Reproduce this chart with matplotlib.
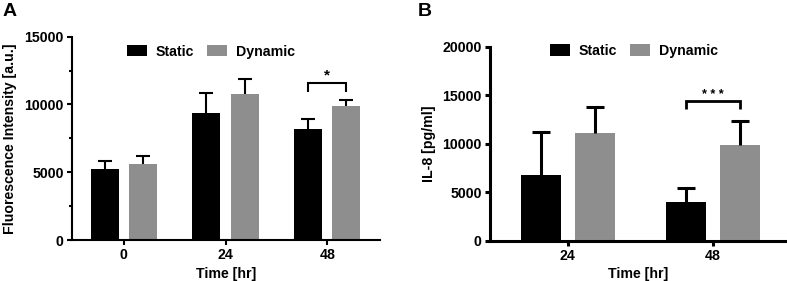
import numpy as np
import matplotlib.pyplot as plt
from matplotlib.ticker import MultipleLocator

plt.rcParams['font.family'] = ['Liberation Sans', 'DejaVu Sans']
plt.rcParams['font.weight'] = 'bold'
plt.rcParams['axes.labelweight'] = 'bold'

# panel A data
cats_a = ['0', '24', '48']
static_a = [5250, 9400, 8180]
static_a_err = [610, 1480, 760]
dynamic_a = [5590, 10760, 9900]
dynamic_a_err = [640, 1110, 420]

# panel B data
cats_b = ['24', '48']
static_b = [6730, 3970]
static_b_err = [4490, 1450]
dynamic_b = [11150, 9870]
dynamic_b_err = [2660, 2490]

BLACK = '#000000'
GRAY = '#8e8e8e'
FS = 10.2


def bar_panel(ax, cats, static, static_err, dynamic, dynamic_err, lw, capsize):
    x = np.arange(len(cats))
    w = 0.275
    off = 0.188
    ax.bar(x - off, static, w, color=BLACK, label='Static', zorder=2)
    ax.bar(x + off, dynamic, w, color=GRAY, label='Dynamic', zorder=2)
    for xs, vals, errs in [(x - off, static, static_err), (x + off, dynamic, dynamic_err)]:
        eb = ax.errorbar(xs, vals, yerr=[np.zeros(len(vals)), errs], fmt='none',
                         ecolor='k', elinewidth=lw, capsize=capsize, capthick=lw, zorder=3)
        # one-sided bars: drop the cap sitting on the bar top
        eb[1][0].set_visible(False)
    ax.set_xticks(x)
    ax.set_xticklabels(cats)
    for s in ['top', 'right']:
        ax.spines[s].set_visible(False)
    for s in ['left', 'bottom']:
        ax.spines[s].set_linewidth(lw)
    ax.tick_params(axis='both', which='major', width=lw, length=3.5, pad=2.5, labelsize=FS)
    ax.tick_params(axis='y', which='minor', width=lw, length=2.2)
    ax.set_xlabel('Time [hr]', fontsize=FS, labelpad=3)
    return x, off


def bracket(ax, x0, x1, ytop, ybot, lw, text, fs):
    ax.plot([x0, x0, x1, x1], [ybot, ytop, ytop, ybot], color='k', lw=lw,
            solid_capstyle='butt', solid_joinstyle='miter', zorder=3)
    ax.text((x0 + x1) / 2, ytop, text, ha='center', va='bottom', fontsize=fs)


fig = plt.figure(figsize=(7.87, 2.81), dpi=100)

# Panel A
axA = fig.add_axes([0.0915, 0.1459, 0.3914, 0.7235])
x, off = bar_panel(axA, cats_a, static_a, static_a_err, dynamic_a, dynamic_a_err, 1.5, 4.7)
axA.set_xlim(-0.508, 2.518)
axA.set_ylim(0, 15000)
axA.set_yticks([0, 5000, 10000, 15000])
axA.yaxis.set_minor_locator(MultipleLocator(2500))
axA.set_ylabel('Fluorescence Intensity [a.u.]', fontsize=FS, labelpad=5.5)
bracket(axA, x[2] - off, x[2] + off, 11620, 10930, 1.5, '*', 11)
axA.legend(loc='center', bbox_to_anchor=(0.451, 0.926), ncol=2, frameon=False,
           fontsize=FS, handlelength=1.4, handleheight=0.85, handletextpad=0.6,
           columnspacing=0.95, borderaxespad=0, borderpad=0)
fig.text(0.003, 0.99, 'A', fontsize=14, fontweight='bold', va='top', ha='left')

# Panel B
axB = fig.add_axes([0.6226, 0.1434, 0.3774, 0.6904])
x, off = bar_panel(axB, cats_b, static_b, static_b_err, dynamic_b, dynamic_b_err, 2.2, 6.4)
axB.set_xlim(-0.537, 1.51)
axB.set_ylim(0, 20000)
axB.set_yticks([0, 5000, 10000, 15000, 20000])
axB.set_ylabel('IL-8 [pg/ml]', fontsize=FS, labelpad=4.5)
bracket(axB, x[1] - off, x[1] + off, 14450, 13600, 2.0, '* * *', 9)
axB.legend(loc='center', bbox_to_anchor=(0.485, 0.978), ncol=2, frameon=False,
           fontsize=FS, handlelength=1.4, handleheight=0.85, handletextpad=0.6,
           columnspacing=0.95, borderaxespad=0, borderpad=0)
fig.text(0.531, 0.99, 'B', fontsize=14, fontweight='bold', va='top', ha='left')

fig.savefig('out.png', dpi=100)
